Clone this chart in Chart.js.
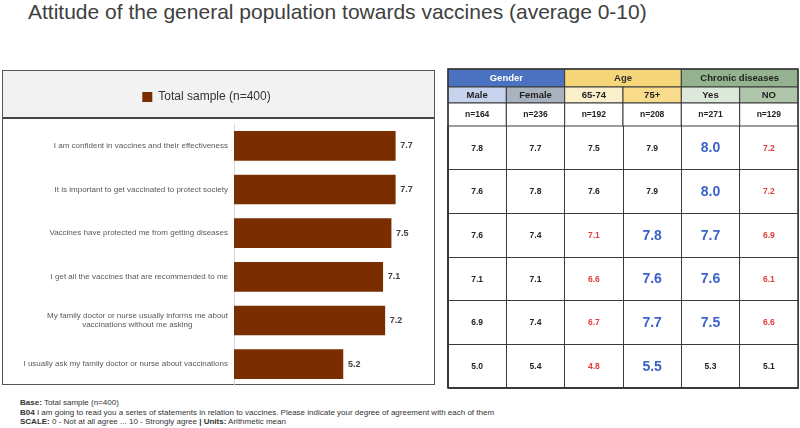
<!DOCTYPE html>
<html>
<head>
<meta charset="utf-8">
<title>Attitude towards vaccines</title>
<script src="https://cdn.jsdelivr.net/npm/chart.js@4.4.1/dist/chart.umd.min.js"></script>
<style>
  body { margin: 0; width: 800px; height: 428px; background: #fff; position: relative; overflow: hidden;
         font-family: "Liberation Sans", Arial, sans-serif; }
  .title { position: absolute; left: 28px; top: 0px; font-size: 21px; color: #404040; white-space: nowrap; }
  .panel { position: absolute; left: 2px; top: 70px; width: 433px; height: 315px; box-sizing: border-box;
           border: 1.5px solid #555; }
  .panelHead { position: absolute; left: 0; top: 0; right: 0; height: 48px; background: #f2f2f2;
               border-bottom: 2px solid #444; box-sizing: border-box; }
  .barWrap { position: absolute; left: 2px; top: 70px; width: 433px; height: 316px; }
  .tableWrap { position: absolute; left: 447px; top: 68px; width: 352px; height: 321px; }
  .notes { position: absolute; left: 20px; top: 398px; font-size: 8px; line-height: 9.5px; color: #333; white-space: nowrap; }
</style>
</head>
<body>
<div class="title">Attitude of the general population towards vaccines (average 0-10)</div>
<div class="panel"><div class="panelHead"></div></div>
<div class="barWrap"><canvas id="barChart"></canvas></div>
<div class="tableWrap"><canvas id="tableChart"></canvas></div>
<div class="notes">
  <div><b>Base:</b> Total sample (n=400)</div>
  <div><b>B04</b> I am going to read you a series of statements in relation to vaccines. Please indicate your degree of agreement with each of them</div>
  <div><b>SCALE:</b> 0 - Not at all agree ... 10 - Strongly agree <b>| Units:</b> Arithmetic mean</div>
</div>
<script>
// Data
const statements = [
  'I am confident in vaccines and their effectiveness',
  'It is important to get vaccinated to protect society',
  'Vaccines have protected me from getting diseases',
  'I get all the vaccines that are recommended to me',
  ['My family doctor or nurse usually informs me about', 'vaccinations without me asking'],
  'I usually ask my family doctor or nurse about vaccinations'
];
const totalSample = [7.7, 7.7, 7.5, 7.1, 7.2, 5.2];

const groups = ['Gender', 'Age', 'Chronic diseases'];
const columns = ['Male', 'Female', '65-74', '75+', 'Yes', 'NO'];
const sampleSizes = [164, 236, 192, 208, 271, 129];

const male = [7.8, 7.6, 7.6, 7.1, 6.9, 5.0];
const female = [7.7, 7.8, 7.4, 7.1, 7.4, 5.4];
const age6574 = [7.5, 7.6, 7.1, 6.6, 6.7, 4.8];
const age75 = [7.9, 7.9, 7.8, 7.6, 7.7, 5.5];
const chronicYes = [8.0, 8.0, 7.7, 7.6, 7.5, 5.3];
const chronicNo = [7.2, 7.2, 6.9, 6.1, 6.6, 5.1];

// 1 = significantly higher, -1 = significantly lower
const maleSig = [0, 0, 0, 0, 0, 0];
const femaleSig = [0, 0, 0, 0, 0, 0];
const age6574Sig = [0, 0, -1, -1, -1, -1];
const age75Sig = [0, 0, 1, 1, 1, 1];
const chronicYesSig = [1, 1, 1, 1, 1, 0];
const chronicNoSig = [-1, -1, -1, -1, -1, 0];

const cellValues = [male, female, age6574, age75, chronicYes, chronicNo];
const cellSig = [maleSig, femaleSig, age6574Sig, age75Sig, chronicYesSig, chronicNoSig];

// Styles
const barColor = '#7a2e00';
const groupColors = ['#4a72c0', '#f5d77a', '#93b28f'];
const groupTextColors = ['#ffffff', '#333333', '#222222'];
const columnColors = ['#c7d3ec', '#a9b3bf', '#fcf0cc', '#f8dc8c', '#dce8d9', '#afc6ab'];
const lineColor = '#3a3a3a';
const fontFamily = '"Liberation Sans", Arial, sans-serif';

Chart.defaults.font.family = fontFamily;
Chart.defaults.animation = false;

// centre the lines of a wrapped label (labels are right aligned)
const measureCtx = document.createElement('canvas').getContext('2d');
measureCtx.font = '8px ' + fontFamily;
const centerLines = (label) => {
  if (!Array.isArray(label)) return label;
  const widths = label.map(l => measureCtx.measureText(l).width);
  const maxW = Math.max(...widths);
  const space = measureCtx.measureText(' ').width;
  return label.map((l, i) => l + ' '.repeat(Math.round((maxW - widths[i]) / 2 / space)));
};

// Legend sits in the grey header strip
const legendSpace = {
  id: 'legendSpace',
  beforeInit(chart) {
    const fit = chart.legend.fit;
    chart.legend.fit = function () {
      fit.call(this);
      this.height = 43;
    };
  }
};

const barLabels = {
  id: 'barLabels',
  afterDatasetsDraw(chart) {
    const ctx = chart.ctx;
    const meta = chart.getDatasetMeta(0);
    ctx.save();
    ctx.font = 'bold 9px ' + fontFamily;
    ctx.fillStyle = '#404040';
    ctx.textAlign = 'left';
    ctx.textBaseline = 'middle';
    meta.data.forEach((bar, i) => {
      ctx.fillText(totalSample[i].toFixed(1), bar.x + 5, bar.y);
    });
    ctx.restore();
  }
};

new Chart(document.getElementById('barChart'), {
  type: 'bar',
  data: {
    labels: statements,
    datasets: [{
      label: 'Total sample (n=400)',
      data: totalSample,
      backgroundColor: barColor,
      borderWidth: 0,
      barThickness: 29
    }]
  },
  options: {
    indexAxis: 'y',
    responsive: true,
    maintainAspectRatio: false,
    layout: { padding: { top: 11, right: 24, bottom: 0, left: 0 } },
    plugins: {
      legend: {
        position: 'top',
        labels: { boxWidth: 10, boxHeight: 10, padding: 10, color: '#333', font: { size: 12 } }
      },
      tooltip: { enabled: false }
    },
    scales: {
      x: { min: 0, max: 8.45, display: false },
      y: {
        grid: { display: false, drawTicks: false },
        border: { display: true, color: '#d9d9d9', width: 1 },
        ticks: {
          color: '#595959',
          font: { size: 8, lineHeight: 1.15 },
          padding: 6,
          callback: function (value) { return centerLines(this.getLabelForValue(value)); }
        },
        afterFit(scale) {
          scale.width = 232;
          scale.paddingTop = 0;
          scale.paddingBottom = 0;
        }
      }
    }
  },
  plugins: [legendSpace, barLabels]
});

// Table drawn on the category scales of a second chart
const tableCells = {
  id: 'tableCells',
  afterDraw(chart) {
    const { ctx, chartArea, scales: { x, y } } = chart;
    const colW = chartArea.width / columns.length;
    const top = 1, groupH = 18, subH = 16, nH = 23;
    ctx.save();
    ctx.textAlign = 'center';
    ctx.textBaseline = 'middle';
    ctx.strokeStyle = lineColor;
    ctx.lineWidth = 1;

    // group header
    groups.forEach((g, gi) => {
      const left = x.getPixelForValue(gi * 2) - colW / 2;
      ctx.fillStyle = groupColors[gi];
      ctx.fillRect(left, top, colW * 2, groupH);
      ctx.strokeRect(left, top, colW * 2, groupH);
      ctx.fillStyle = groupTextColors[gi];
      ctx.font = 'bold 9.5px ' + fontFamily;
      ctx.fillText(g, left + colW, top + groupH / 2 + 0.5);
    });

    // column header + sample size
    columns.forEach((c, ci) => {
      const cx = x.getPixelForValue(ci);
      const left = cx - colW / 2;
      ctx.fillStyle = columnColors[ci];
      ctx.fillRect(left, top + groupH, colW, subH);
      ctx.strokeRect(left, top + groupH, colW, subH);
      ctx.fillStyle = '#222';
      ctx.font = 'bold 9.5px ' + fontFamily;
      ctx.fillText(c, cx, top + groupH + subH / 2 + 0.5);
      ctx.fillStyle = '#fff';
      ctx.fillRect(left, top + groupH + subH, colW, nH);
      ctx.strokeRect(left, top + groupH + subH, colW, nH);
      ctx.fillStyle = '#222';
      ctx.font = 'bold 8.5px ' + fontFamily;
      ctx.fillText('n=' + sampleSizes[ci], cx, top + groupH + subH + nH / 2 + 0.5);
    });

    // values
    cellValues.forEach((col, ci) => {
      const cx = x.getPixelForValue(ci);
      col.forEach((v, ri) => {
        const cy = y.getPixelForValue(ri);
        const sig = cellSig[ci][ri];
        if (sig === 1) {
          ctx.fillStyle = '#3a62c8';
          ctx.font = 'bold 14px ' + fontFamily;
        } else if (sig === -1) {
          ctx.fillStyle = '#e03c3c';
          ctx.font = 'bold 8.5px ' + fontFamily;
        } else {
          ctx.fillStyle = '#222';
          ctx.font = 'bold 8.5px ' + fontFamily;
        }
        ctx.fillText(v.toFixed(1), cx, cy + 0.5);
      });
    });

    // outer frame
    ctx.lineWidth = 1.5;
    ctx.strokeRect(chartArea.left, top, chartArea.width, chartArea.bottom - top);
    ctx.restore();
  }
};

new Chart(document.getElementById('tableChart'), {
  type: 'bar',
  data: { labels: columns, datasets: [] },
  options: {
    responsive: true,
    maintainAspectRatio: false,
    layout: { padding: { top: 58, right: 1, bottom: 1, left: 1 } },
    plugins: { legend: { display: false }, tooltip: { enabled: false } },
    scales: {
      x: {
        type: 'category',
        offset: true,
        grid: { offset: true, drawTicks: false, color: lineColor, lineWidth: 1 },
        border: { display: true, color: lineColor },
        ticks: { display: false }
      },
      y: {
        type: 'category',
        labels: statements,
        offset: true,
        grid: { offset: true, drawTicks: false, color: lineColor, lineWidth: 1 },
        border: { display: true, color: lineColor },
        ticks: { display: false }
      }
    }
  },
  plugins: [tableCells]
});
</script>
</body>
</html>
